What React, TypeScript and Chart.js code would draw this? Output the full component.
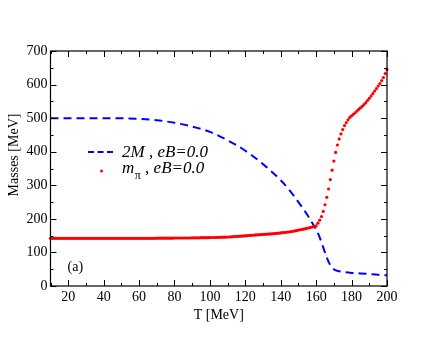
import React, { useEffect, useRef } from "react";
import { Chart, registerables } from "chart.js";

Chart.register(...registerables);

// 2M (blue dashed), eB = 0.0
const T_2M = [10, 20, 30, 40, 50, 60, 70, 80, 90, 100, 110, 120, 130, 140, 145, 150, 155, 158, 160, 162, 164, 166, 168, 170, 172, 175, 180, 185, 190, 195, 200];
const M_2M = [500, 500, 500, 500, 499.5, 498, 494, 486, 475, 459, 434, 403, 363, 315, 285, 250, 212, 186, 168, 145, 115, 85, 62, 50, 45, 42, 39, 37.5, 35.5, 33.5, 32];

// m_pi (red dots), eB = 0.0
const PION_T = [
  10, 11, 12, 13, 14, 15, 16, 17, 18, 19, 20, 21, 22, 23, 24, 25, 26, 27, 28, 29,
  30, 31, 32, 33, 34, 35, 36, 37, 38, 39, 40, 41, 42, 43, 44, 45, 46, 47, 48, 49,
  50, 51, 52, 53, 54, 55, 56, 57, 58, 59, 60, 61, 62, 63, 64, 65, 66, 67, 68, 69,
  70, 71, 72, 73, 74, 75, 76, 77, 78, 79, 80, 81, 82, 83, 84, 85, 86, 87, 88, 89,
  90, 91, 92, 93, 94, 95, 96, 97, 98, 99, 100, 101, 102, 103, 104, 105, 106, 107, 108, 109,
  110, 111, 112, 113, 114, 115, 116, 117, 118, 119, 120, 121, 122, 123, 124, 125, 126, 127, 128, 129,
  130, 131, 132, 133, 134, 135, 136, 137, 138, 139, 140, 141, 142, 143, 144, 145, 146, 147, 148, 149,
  150, 151, 152, 153, 154, 155, 156, 157, 158, 159, 160,
  161, 162, 163, 164, 165, 166, 167, 168, 169, 170, 171, 172, 173, 174, 175, 176, 177, 178, 179, 180,
  181, 182, 183, 184, 185, 186, 187, 188, 189, 190,
  191, 192, 193, 194, 195, 196, 197, 198, 199, 200,
];
const PION_M = [
  142, 142, 142, 142, 142, 142, 142, 142, 142, 142, 142, 142, 142, 142, 142, 142, 142, 142, 142, 142,
  142, 142, 142, 142, 142, 142, 142, 142, 142, 142, 142, 142, 142, 142, 142, 142, 142, 142, 142, 142,
  142, 142, 142, 142, 142, 142, 142, 142, 142, 142, 142, 142, 142, 142, 142, 142, 142, 142, 142, 142,
  142.5, 142.5, 142.5, 142.5, 142.5, 142.5, 142.5, 142.5, 142.5, 142.5, 143, 143, 143, 143, 143, 143, 143, 143, 143, 143,
  143.5, 143.5, 143.5, 143.5, 143.5, 144, 144, 144, 144, 144, 144.5, 144.5, 144.5, 144.5, 145, 145, 145, 145.5, 145.5, 145.5,
  146, 146, 146.5, 147, 147.5, 147.8, 148.1, 148.4, 148.8, 149.2, 149.6, 150, 150.4, 150.8, 151.2, 151.6, 152, 152.4, 152.8, 153.2,
  153.6, 154, 154.4, 154.8, 155.2, 155.6, 156, 156.5, 157, 157.5, 158, 158.7, 159.4, 160, 160.8, 161.5, 162.3, 163.1, 164, 165.2,
  166.5, 167.5, 168.6, 169.7, 170.8, 172, 173.4, 174.8, 176.2, 177.6, 179,
  187, 196, 207, 222, 242, 264, 289, 317, 345, 372, 398, 420, 438, 453, 466, 478, 487, 495, 502, 507,
  511.5, 516, 521, 526, 530.5, 535, 540.5, 546, 552.5, 559,
  566, 573, 580.5, 588, 595.5, 603, 612, 621, 633, 645,
];

const X_MIN = 10;
const X_MAX = 200;
const Y_MIN = 0;
const Y_MAX = 700;
const X_LABEL_TICKS = [20, 40, 60, 80, 100, 120, 140, 160, 180, 200];
const X_MINOR_STEP = 10;
const Y_MAJOR_STEP = 100;
const Y_MINOR_STEP = 50;

const SERIF = "'Liberation Serif', 'DejaVu Serif', serif";

const decorPlugin = {
  id: "decor",
  afterDraw(chart: any) {
    const { ctx, chartArea: a, scales } = chart;
    const xs = scales.x;
    const ys = scales.y;
    ctx.save();
    ctx.strokeStyle = "#000";
    ctx.lineWidth = 1;
    for (let v = X_MIN; v <= X_MAX + 0.001; v += X_MINOR_STEP) {
      const px = Math.round(xs.getPixelForValue(v)) + 0.5;
      const major = v % 20 === 0;
      const len = major ? 6 : 3;
      ctx.beginPath();
      ctx.moveTo(px, a.bottom);
      ctx.lineTo(px, a.bottom - len);
      ctx.moveTo(px, a.top);
      ctx.lineTo(px, a.top + len);
      ctx.stroke();
    }
    for (let v = Y_MIN; v <= Y_MAX + 0.001; v += Y_MINOR_STEP) {
      const py = Math.round(ys.getPixelForValue(v)) + 0.5;
      const major = v % Y_MAJOR_STEP === 0;
      const len = major ? 6 : 3;
      ctx.beginPath();
      ctx.moveTo(a.left, py);
      ctx.lineTo(a.left + len, py);
      ctx.moveTo(a.right, py);
      ctx.lineTo(a.right - len, py);
      ctx.stroke();
    }
    ctx.lineWidth = 1.2;
    ctx.strokeRect(a.left, a.top, a.right - a.left, a.bottom - a.top);

    ctx.fillStyle = "#000";
    ctx.font = `14px ${SERIF}`;
    ctx.textAlign = "center";
    ctx.textBaseline = "middle";
    ctx.fillText("T [MeV]", (a.left + a.right) / 2, 315);
    ctx.save();
    ctx.translate(14.5, 155);
    ctx.rotate(-Math.PI / 2);
    ctx.fillText("Masses [MeV]", 0, 0);
    ctx.restore();

    ctx.textAlign = "left";
    ctx.textBaseline = "alphabetic";
    ctx.fillText("(a)", 67.5, 271);

    ctx.strokeStyle = "#0000ff";
    ctx.lineWidth = 2;
    ctx.setLineDash([6, 3.5]);
    ctx.beginPath();
    ctx.moveTo(88, 152);
    ctx.lineTo(116, 152);
    ctx.stroke();
    ctx.setLineDash([]);
    ctx.fillStyle = "#ff0000";
    ctx.beginPath();
    ctx.arc(101.5, 171, 1.5, 0, Math.PI * 2);
    ctx.fill();

    ctx.fillStyle = "#000";
    ctx.font = `italic 17px ${SERIF}`;
    ctx.fillText("2M , eB=0.0", 122, 157);
    ctx.fillText("m", 122, 173);
    const mw = ctx.measureText("m").width;
    ctx.font = `12px ${SERIF}`;
    ctx.fillText("\u03c0", 122 + mw + 0.5, 179);
    const pw = ctx.measureText("\u03c0").width;
    ctx.font = `italic 17px ${SERIF}`;
    ctx.fillText(" , eB=0.0", 122 + mw + 0.5 + pw, 173);
    ctx.restore();
  },
};

export default function App() {
  const ref = useRef<HTMLCanvasElement | null>(null);

  useEffect(() => {
    document.body.style.margin = "0";
    const canvas = ref.current;
    if (!canvas) return;
    const blueData = T_2M.map((t, i) => ({ x: t, y: M_2M[i] }));
    const redData = PION_T.map((t, i) => ({ x: t, y: PION_M[i] }));
    const chart = new Chart(canvas, {
      type: "line",
      data: {
        datasets: [
          {
            label: "m_pi , eB=0.0",
            data: redData,
            showLine: false,
            pointRadius: 1.6,
            pointBorderWidth: 0,
            pointBackgroundColor: "#ff0000",
            borderColor: "#ff0000",
            clip: false,
            order: 0,
          },
          {
            label: "2M , eB=0.0",
            data: blueData,
            borderColor: "#0000ff",
            borderWidth: 2,
            borderDash: [8, 5],
            pointRadius: 0,
            cubicInterpolationMode: "monotone",
            fill: false,
            order: 1,
          },
        ],
      },
      options: {
        animation: false,
        responsive: false,
        devicePixelRatio: 1,
        layout: { padding: { left: 0, top: 51, right: 49, bottom: 0 } },
        plugins: {
          legend: { display: false },
          tooltip: { enabled: false },
        },
        scales: {
          x: {
            type: "linear",
            min: X_MIN,
            max: X_MAX,
            grid: { display: false, drawTicks: false },
            border: { display: false },
            afterBuildTicks: (s: any) => {
              s.ticks = X_LABEL_TICKS.map((v) => ({ value: v }));
            },
            afterFit: (s: any) => {
              s.height = 51;
            },
            ticks: {
              color: "#000",
              padding: 3,
              maxRotation: 0,
              autoSkip: false,
              font: { family: SERIF, size: 14 },
            },
          },
          y: {
            type: "linear",
            min: Y_MIN,
            max: Y_MAX,
            grid: { display: false, drawTicks: false },
            border: { display: false },
            afterFit: (s: any) => {
              s.width = 50.5;
            },
            ticks: {
              color: "#000",
              padding: 3,
              stepSize: Y_MAJOR_STEP,
              font: { family: SERIF, size: 14 },
            },
          },
        },
      },
      plugins: [decorPlugin],
    });
    return () => chart.destroy();
  }, []);

  return <canvas ref={ref} width={436} height={337} style={{ display: "block" }} />;
}
